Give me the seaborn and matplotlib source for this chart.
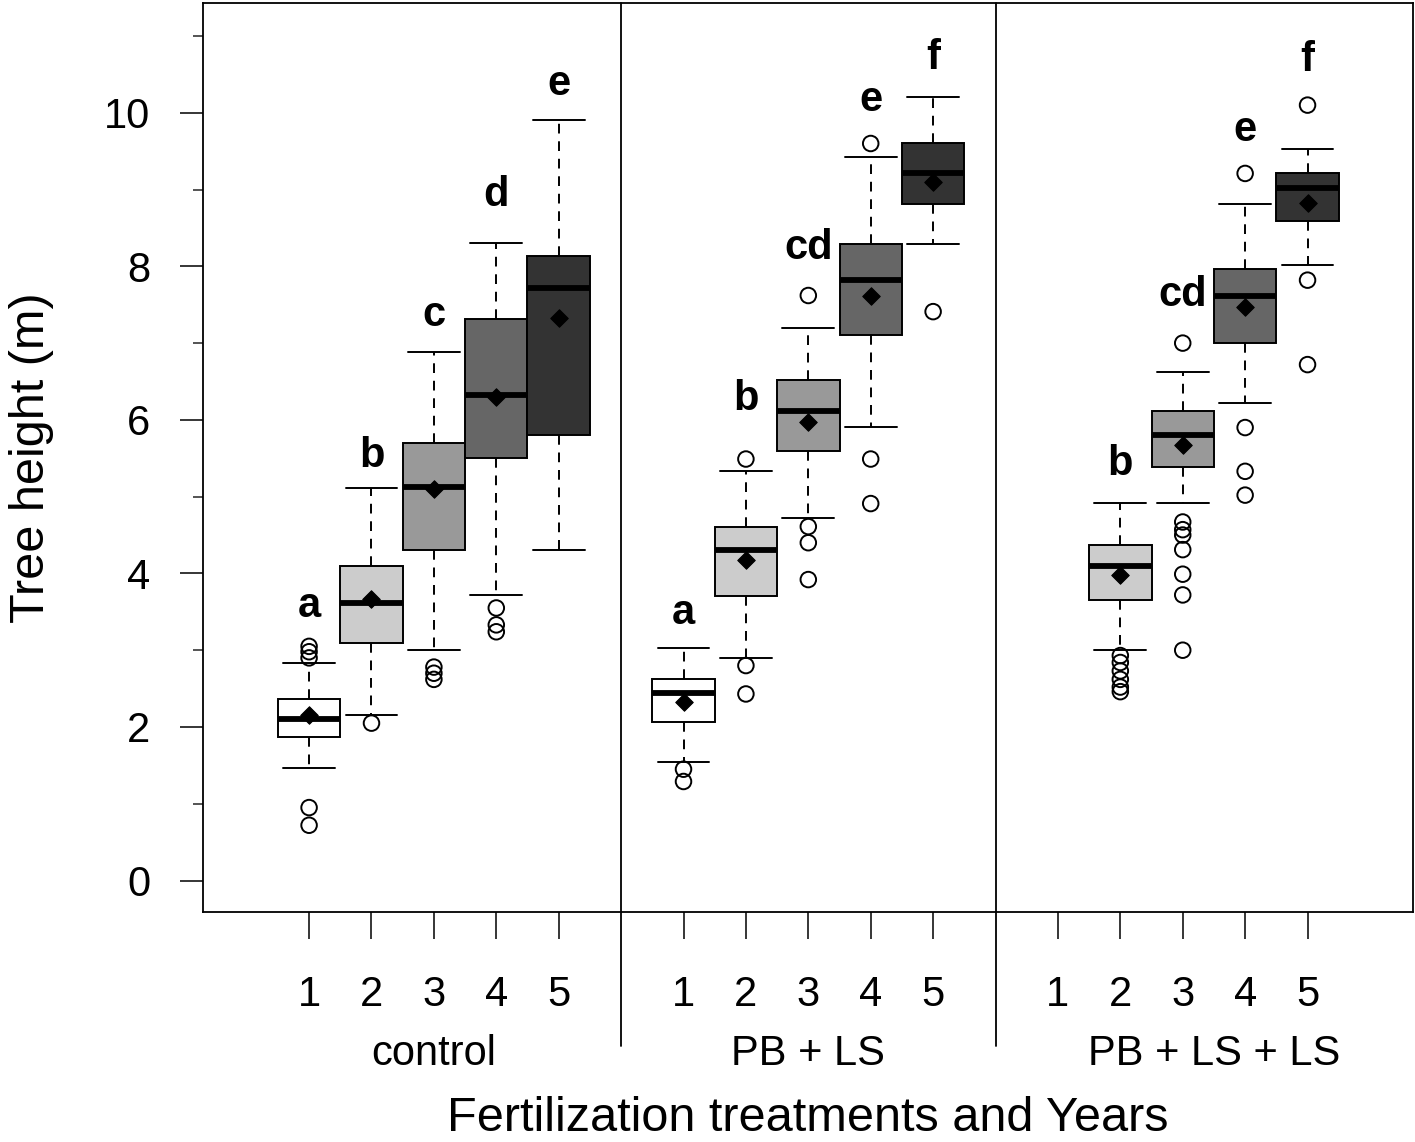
#!/usr/bin/env python
# coding: utf-8

import numpy as np
import pandas as pd
import matplotlib
matplotlib.use("Agg")
import matplotlib.pyplot as plt
from matplotlib.ticker import MultipleLocator
import seaborn as sns

# treatments and years
treatments = ["control", "PB + LS", "PB + LS + LS"]
years = [1, 2, 3, 4, 5]
tick_labels = ["1", "2", "3", "4", "5"]
year_colors = {1: "#FFFFFF", 2: "#CCCCCC", 3: "#999999", 4: "#666666", 5: "#333333"}

# box statistics (None = no box)
ctrl_lo = [1.47, 2.15, 3.00, 3.72, 4.31]
ctrl_q1 = [1.87, 3.10, 4.30, 5.50, 5.80]
ctrl_med = [2.11, 3.62, 5.12, 6.33, 7.72]
ctrl_q3 = [2.36, 4.10, 5.70, 7.31, 8.13]
ctrl_hi = [2.83, 5.11, 6.89, 8.30, 9.90]
ctrl_mean = [2.16, 3.67, 5.10, 6.30, 7.33]
ctrl_out = [[3.05, 2.98, 2.90, 0.95, 0.72], [2.05], [2.78, 2.70, 2.62],
            [3.55, 3.33, 3.24], []]
ctrl_letters = ["a", "b", "c", "d", "e"]
ctrl_letter_y = [3.43, 5.39, 7.22, 8.78, 10.23]

pbls_lo = [1.54, 2.90, 4.72, 5.91, 8.29]
pbls_q1 = [2.07, 3.71, 5.60, 7.11, 8.81]
pbls_med = [2.44, 4.31, 6.12, 7.82, 9.21]
pbls_q3 = [2.63, 4.61, 6.52, 8.29, 9.60]
pbls_hi = [3.03, 5.33, 7.20, 9.43, 10.20]
pbls_mean = [2.32, 4.18, 5.97, 7.62, 9.10]
pbls_out = [[1.45, 1.29], [5.49, 2.80, 2.43], [7.62, 4.61, 4.40, 3.92],
            [9.60, 5.49, 4.91], [7.41]]
pbls_letters = ["a", "b", "cd", "e", "f"]
pbls_letter_y = [3.34, 6.13, 8.09, 10.02, 10.57]

pbls2_lo = [None, 3.00, 4.92, 6.22, 8.02]
pbls2_q1 = [None, 3.65, 5.39, 7.00, 8.59]
pbls2_med = [None, 4.10, 5.80, 7.62, 9.02]
pbls2_q3 = [None, 4.37, 6.11, 7.96, 9.22]
pbls2_hi = [None, 4.92, 6.63, 8.81, 9.53]
pbls2_mean = [None, 3.98, 5.67, 7.47, 8.83]
pbls2_out = [[], [2.93, 2.84, 2.73, 2.62, 2.52, 2.46],
             [7.00, 4.67, 4.57, 4.50, 4.31, 3.99, 3.72, 3.00],
             [9.21, 5.90, 5.33, 5.02], [10.10, 7.82, 6.72]]
pbls2_letters = [None, "b", "cd", "e", "f"]
pbls2_letter_y = [None, 5.28, 7.48, 9.63, 10.54]

groups = [
    (ctrl_lo, ctrl_q1, ctrl_med, ctrl_q3, ctrl_hi, ctrl_mean, ctrl_out, ctrl_letters, ctrl_letter_y),
    (pbls_lo, pbls_q1, pbls_med, pbls_q3, pbls_hi, pbls_mean, pbls_out, pbls_letters, pbls_letter_y),
    (pbls2_lo, pbls2_q1, pbls2_med, pbls2_q3, pbls2_hi, pbls2_mean, pbls2_out, pbls2_letters, pbls2_letter_y),
]

# long tables: five stat points per box reproduce its quartiles exactly
box_rows, mean_rows, out_rows, letter_rows = [], [], [], []
for g, (lo, q1, med, q3, hi, mn, out, let, let_y) in enumerate(groups):
    for i, yr in enumerate(years):
        pos = g * 6 + yr
        if lo[i] is not None:
            for v in (lo[i], q1[i], med[i], q3[i], hi[i]):
                box_rows.append({"pos": pos, "year": yr, "value": v})
            mean_rows.append({"pos": pos, "value": mn[i]})
            letter_rows.append((pos, let_y[i], let[i]))
        for v in out[i]:
            out_rows.append({"pos": pos, "value": v})

box_df = pd.DataFrame(box_rows)
mean_df = pd.DataFrame(mean_rows)
out_df = pd.DataFrame(out_rows)

sns.set_theme(style="white")
plt.rcParams["font.family"] = ["Liberation Sans", "DejaVu Sans"]

fig = plt.figure(figsize=(14.15, 11.42), dpi=100)
ax = fig.add_axes([203 / 1415, 1 - 912 / 1142, 1210 / 1415, 909 / 1142])

sns.boxplot(
    data=box_df, x="pos", y="value", hue="year", palette=year_colors,
    native_scale=True, dodge=False, width=1.0, gap=0, whis=np.inf,
    saturation=1, linecolor="black", linewidth=1.4, showfliers=False,
    legend=False, capwidths=0.83,
    medianprops={"linewidth": 4.2, "solid_capstyle": "butt"},
    whiskerprops={"linestyle": (0, (5, 4)), "linewidth": 1.4},
    capprops={"linewidth": 1.4},
    ax=ax,
)

sns.scatterplot(data=out_df, x="pos", y="value", marker="o", s=125,
                facecolor="none", edgecolor="black", linewidth=1.4,
                ax=ax, zorder=5)
sns.scatterplot(data=mean_df, x="pos", y="value", marker="D", s=80,
                color="black", edgecolor="black", ax=ax, zorder=6)

for pos, y, txt in letter_rows:
    ax.text(pos, y, txt, ha="center", va="baseline", fontsize=30,
            fontweight="bold", color="black")

ax.set_xlim(-0.70, 18.69)
ax.set_ylim(-0.41, 11.43)

tick_pos = [g * 6 + yr for g in range(3) for yr in years]
ax.set_xticks(tick_pos)
ax.set_xticklabels(tick_labels * 3)
ax.set_yticks([0, 2, 4, 6, 8, 10])
ax.yaxis.set_minor_locator(MultipleLocator(1))

ax.tick_params(axis="x", which="major", length=19.4, width=1.1, pad=26,
               labelsize=30, colors="black", bottom=True)
ax.tick_params(axis="y", which="major", length=16.5, width=1.1, pad=21.5,
               labelsize=30, colors="black", left=True)
ax.tick_params(axis="y", which="minor", length=7, width=1.1, left=True)

for sp in ax.spines.values():
    sp.set_color("black")
    sp.set_linewidth(1.3)

# separators between treatments, running below the axis
for sep in (6, 12):
    ax.axvline(sep, ymin=-0.147, ymax=1, color="black", linewidth=1.3,
               clip_on=False)

group_centers = [3, 9, 15.5]
for cx, name in zip(group_centers, treatments):
    ax.text(cx, -0.1683, name, transform=ax.get_xaxis_transform(),
            ha="center", va="baseline", fontsize=30, color="black")

ax.set_xlabel("")
ax.set_ylabel("")
ax.text(0.5, -0.2410, "Fertilization treatments and Years",
        transform=ax.transAxes, ha="center", va="baseline", fontsize=35,
        color="black")
fig.text(32 / 1415, 1 - 458 / 1142, "Tree height (m)", rotation=90,
         ha="center", va="center", fontsize=35, color="black")

fig.savefig("out.png", dpi=100)
